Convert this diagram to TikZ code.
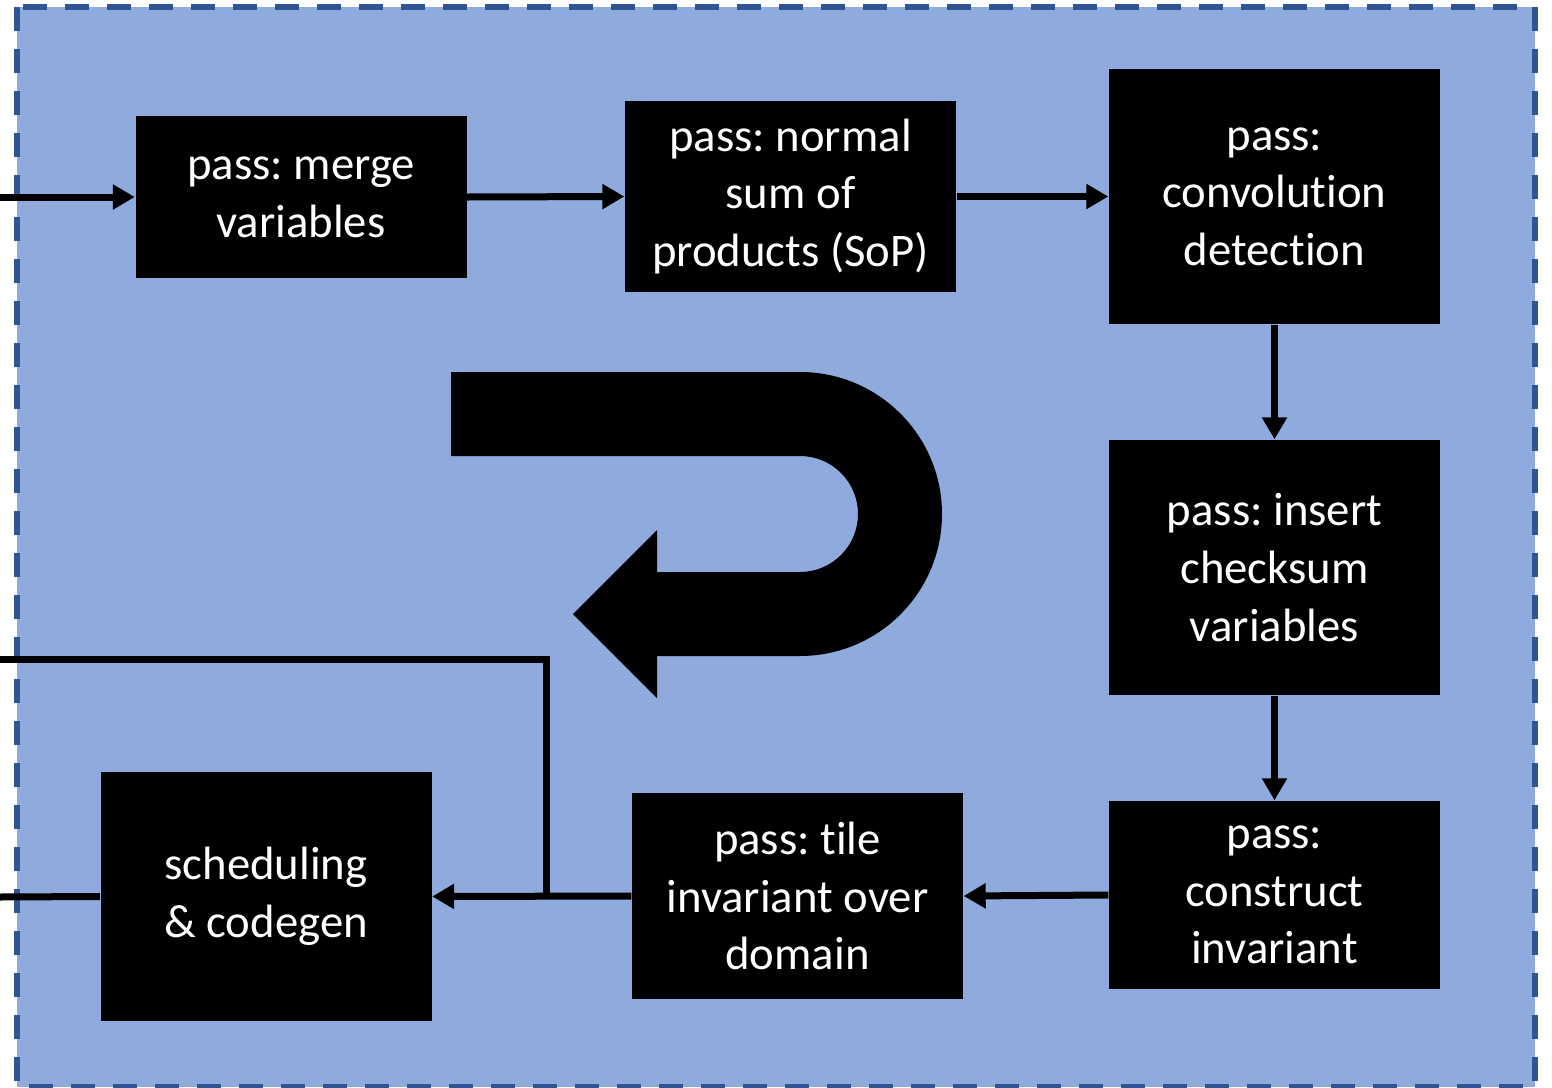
\documentclass[tikz,border=0pt]{standalone}
\usepackage{fontspec}
\setmainfont{Carlito}[Ligatures=NoCommon]
\frenchspacing
\usetikzlibrary{arrows.meta,positioning}
\definecolor{panelfill}{RGB}{143,170,220}
\definecolor{paneledge}{RGB}{47,85,151}

\begin{document}
\begin{tikzpicture}[scale=1.0,>={Triangle[length=0.22cm,width=0.24cm]},
  passbox/.style={fill=black,text=white,align=center,inner sep=0pt,minimum width=3.31cm,
    font=\fontsize{13.3}{16.4}\selectfont},
  flow/.style={line width=0.07cm}]
  \useasboundingbox (0,0) rectangle (15.52,-10.88);
  \draw[paneledge,fill=panelfill,line width=0.055cm,dash pattern=on 0.24cm off 0.18cm]
    (0.17,-0.07) rectangle (15.35,-10.87);
  \node[passbox,minimum height=1.62cm] (merge) at (3.01,-1.97) {pass: merge\\variables};
  \node[passbox,minimum height=1.91cm] (sop) at (7.905,-1.965) {pass: normal\\sum of\\products (SoP)};
  \node[passbox,minimum height=2.55cm] (conv) at (12.745,-1.965) {pass:\\convolution\\detection};
  \node[passbox,minimum height=2.55cm] (chk) at (12.745,-5.675) {pass: insert\\checksum\\variables};
  \node[passbox,minimum height=1.88cm] (inv) at (12.745,-8.95) {pass:\\construct\\invariant};
  \node[passbox,minimum height=2.06cm] (tile) at (7.975,-8.96) {pass: tile\\invariant over\\domain};
  \node[passbox,minimum height=2.49cm] (sched) at (2.66,-8.965) {scheduling\\\& codegen};
  \coordinate (in) at (0,-1.97);
  \coordinate (out) at (0,-8.97);
  \coordinate (fb) at (0,-6.595);
  \coordinate (tap) at (5.465,-8.965);
  \draw[flow,->] (in) -- (merge.west);
  \draw[flow,->] (merge.east) -- (sop.west);
  \draw[flow,->] (sop.east) -- (conv.west);
  \draw[flow,->] (conv.south) -- (chk.north);
  \draw[flow,->] (chk.south) -- (inv.north);
  \draw[flow,->] (inv.west) -- (tile.east);
  \draw[flow,->] (tile.west) -- (sched.east);
  \draw[flow] (tap) |- (fb);
  \draw[flow] (sched.west) -- (out);
  \fill (4.51,-3.72) -- (8.00,-3.72) arc (90:-90:1.42) -- (6.57,-6.56) -- (6.57,-6.98)
    -- (5.73,-6.14) -- (6.57,-5.30) -- (6.57,-5.72) -- (8.00,-5.72) arc (-90:90:0.58)
    -- (4.51,-4.56) -- cycle;
\end{tikzpicture}
\end{document}
